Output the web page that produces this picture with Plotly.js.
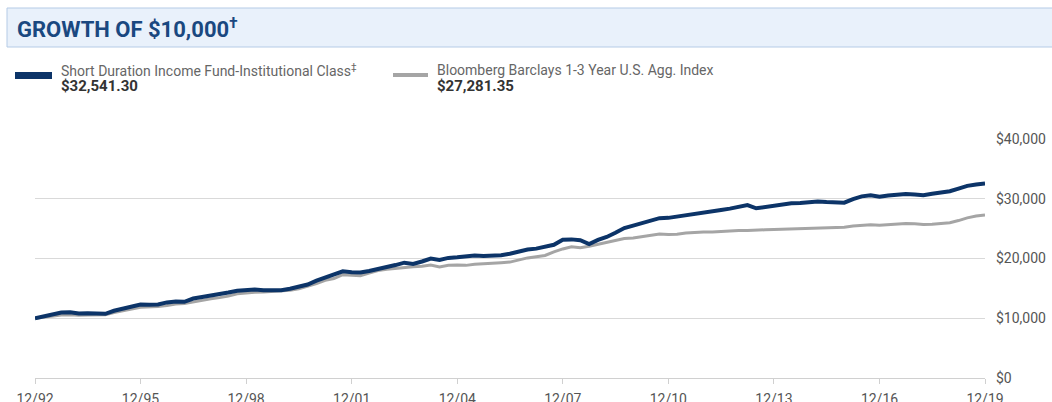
<!DOCTYPE html>
<html>
<head>
<meta charset="utf-8">
<script src="https://cdn.plot.ly/plotly-3.0.1.min.js"></script>
<style>html,body{margin:0;padding:0;background:#fff;}#chart{width:1052px;height:402px;}</style>
</head>
<body>
<div id="chart"></div>
<script>
const dates = [
"1992-12-31","1993-03-31","1993-06-30","1993-09-30","1993-12-31","1994-03-31","1994-06-30","1994-09-30","1994-12-31",
"1995-03-31","1995-06-30","1995-09-30","1995-12-31","1996-03-31","1996-06-30","1996-09-30","1996-12-31",
"1997-03-31","1997-06-30","1997-09-30","1997-12-31","1998-03-31","1998-06-30","1998-09-30","1998-12-31",
"1999-03-31","1999-06-30","1999-09-30","1999-12-31","2000-03-31","2000-06-30","2000-09-30","2000-12-31",
"2001-03-31","2001-06-30","2001-09-30","2001-12-31","2002-03-31","2002-06-30","2002-09-30","2002-12-31",
"2003-03-31","2003-06-30","2003-09-30","2003-12-31","2004-03-31","2004-06-30","2004-09-30","2004-12-31",
"2005-03-31","2005-06-30","2005-09-30","2005-12-31","2006-03-31","2006-06-30","2006-09-30","2006-12-31",
"2007-03-31","2007-06-30","2007-09-30","2007-12-31","2008-03-31","2008-06-30","2008-09-30","2008-12-31",
"2009-03-31","2009-06-30","2009-09-30","2009-12-31","2010-03-31","2010-06-30","2010-09-30","2010-12-31",
"2011-03-31","2011-06-30","2011-09-30","2011-12-31","2012-03-31","2012-06-30","2012-09-30","2012-12-31",
"2013-03-31","2013-06-30","2013-09-30","2013-12-31","2014-03-31","2014-06-30","2014-09-30","2014-12-31",
"2015-03-31","2015-06-30","2015-09-30","2015-12-31","2016-03-31","2016-06-30","2016-09-30","2016-12-31",
"2017-03-31","2017-06-30","2017-09-30","2017-12-31","2018-03-31","2018-06-30","2018-09-30","2018-12-31",
"2019-03-31","2019-06-30","2019-09-30","2019-12-31"
];

const fundValues = [
10000,10350,10650,10950,11000,10800,10850,10800,10750,
11250,11600,11950,12300,12250,12300,12650,12800,
12750,13300,13550,13750,14050,14300,14600,14700,
14800,14700,14650,14700,14950,15250,15650,16300,
16850,17250,17850,17700,17650,17900,18200,18600,
18900,19300,19100,19500,20000,19750,20100,20200,
20300,20500,20400,20400,20550,20800,21200,21500,
21650,21900,22300,23150,23200,23050,22400,23100,
23600,24300,25100,25500,25900,26300,26750,26800,
27000,27300,27350,27600,27900,28100,28350,28700,
28950,28400,28650,28850,29000,29250,29300,29500,
29550,29450,29450,29350,29950,30400,30600,30350,
30550,30750,30800,30700,30600,30850,31000,31250,
31700,32150,32400,32541.30
];

const indexValues = [
10000,10200,10400,10550,10600,10500,10550,10600,10600,
10950,11300,11550,11850,11850,11950,12150,12400,
12450,12750,13050,13250,13450,13700,14100,14250,
14350,14400,14500,14550,14700,14950,15350,15800,
16350,16650,17300,17150,17100,17550,18000,18200,
18350,18550,18600,18700,18900,18600,18850,18900,
18850,19050,19100,19250,19300,19400,19800,20100,
20300,20500,21100,21600,21950,21800,22050,22400,
22700,23000,23350,23450,23700,23950,24100,24000,
24050,24250,24400,24450,24450,24550,24650,24700,
24700,24700,24800,24850,24900,24950,25000,25050,
25150,25200,25300,25250,25450,25600,25650,25550,
25650,25750,25850,25800,25700,25750,25850,26000,
26350,26800,27100,27281.35
];

const fundName = "Short Duration Income Fund-Institutional Class";
const fundEnd = "$32,541.30";
const indexName = "Bloomberg Barclays 1-3 Year U.S. Agg. Index";
const indexEnd = "$27,281.35";
const chartTitle = "GROWTH OF $10,000";

const xTickVals = ["1992-12-31","1995-12-31","1998-12-31","2001-12-31","2004-12-31","2007-12-31","2010-12-31","2013-12-31","2016-12-31","2019-12-31"];
const xTickText = ["12/92","12/95","12/98","12/01","12/04","12/07","12/10","12/13","12/16","12/19"];
const yTickVals = [0,10000,20000,30000,40000];
const yTickText = ["$0","$10,000","$20,000","$30,000","$40,000"];

const NAVY = "#0c3468";
const GREY = "#a5a5a5";
const FONT = "Roboto, 'Noto Sans', sans-serif";

// pixel helpers for the plot area (l=35, r=985, t=139, b=378)
const PX = px => (px - 35) / 950;
const PY = py => (378 - py) / 239;

const traces = [
  {x: dates, y: indexValues, type: "scatter", mode: "lines", line: {color: GREY, width: 3}, hoverinfo: "skip"},
  {x: dates, y: fundValues, type: "scatter", mode: "lines", line: {color: NAVY, width: 4}, hoverinfo: "skip"}
];

const layout = {
  width: 1052, height: 402,
  margin: {l: 35, r: 67, t: 139, b: 24},
  paper_bgcolor: "#fff", plot_bgcolor: "#fff",
  showlegend: false,
  font: {family: FONT, color: "#555", size: 14},
  xaxis: {
    type: "date",
    range: ["1992-12-31", "2019-12-31"],
    tickmode: "array", tickvals: xTickVals, ticktext: xTickText,
    showgrid: false, zeroline: false,
    showline: true, linecolor: "#d0d0d0", linewidth: 1,
    ticks: "outside", ticklen: 5, tickcolor: "#d0d0d0",
    ticklabelstandoff: 3,
    tickfont: {family: FONT, size: 14, color: "#555"},
    fixedrange: true
  },
  yaxis: {
    side: "right",
    range: [0, 40000],
    tickmode: "array", tickvals: yTickVals, ticktext: yTickText,
    showgrid: true, gridcolor: "#d9d9d9", gridwidth: 1,
    zeroline: false, showline: false, ticks: "",
    ticklabelstandoff: 10,
    tickfont: {family: FONT, size: 14, color: "#555"},
    fixedrange: true
  },
  shapes: [
    {type: "rect", xref: "paper", yref: "paper", x0: PX(7), x1: PX(1060), y0: PY(47), y1: PY(8),
     fillcolor: "#e9f1fb", line: {color: "#b5cbe6", width: 1}, layer: "below"},
    {type: "rect", xref: "paper", yref: "paper", x0: PX(15), x1: PX(52), y0: PY(79), y1: PY(72),
     fillcolor: NAVY, line: {width: 0}},
    {type: "rect", xref: "paper", yref: "paper", x0: PX(393), x1: PX(428), y0: PY(77), y1: PY(73),
     fillcolor: GREY, line: {width: 0}}
  ],
  annotations: [
    {xref: "paper", yref: "paper", x: PX(15), y: PY(28), xanchor: "left", yanchor: "middle", showarrow: false,
     text: "<b>" + chartTitle + "<sup>†</sup></b>", font: {family: FONT, size: 22, color: "#1a4880"}},
    {xref: "paper", yref: "paper", x: PX(59), y: PY(70), xanchor: "left", yanchor: "middle", showarrow: false,
     text: fundName + "<sup>‡</sup>", font: {family: FONT, size: 14, color: "#666"}},
    {xref: "paper", yref: "paper", x: PX(59), y: PY(86), xanchor: "left", yanchor: "middle", showarrow: false,
     text: "<b>" + fundEnd + "</b>", font: {family: FONT, size: 15, color: "#333"}},
    {xref: "paper", yref: "paper", x: PX(435), y: PY(70), xanchor: "left", yanchor: "middle", showarrow: false,
     text: indexName, font: {family: FONT, size: 14, color: "#666"}},
    {xref: "paper", yref: "paper", x: PX(435), y: PY(86), xanchor: "left", yanchor: "middle", showarrow: false,
     text: "<b>" + indexEnd + "</b>", font: {family: FONT, size: 15, color: "#333"}}
  ]
};

Plotly.newPlot("chart", traces, layout, {staticPlot: true, displayModeBar: false});
</script>
</body>
</html>
